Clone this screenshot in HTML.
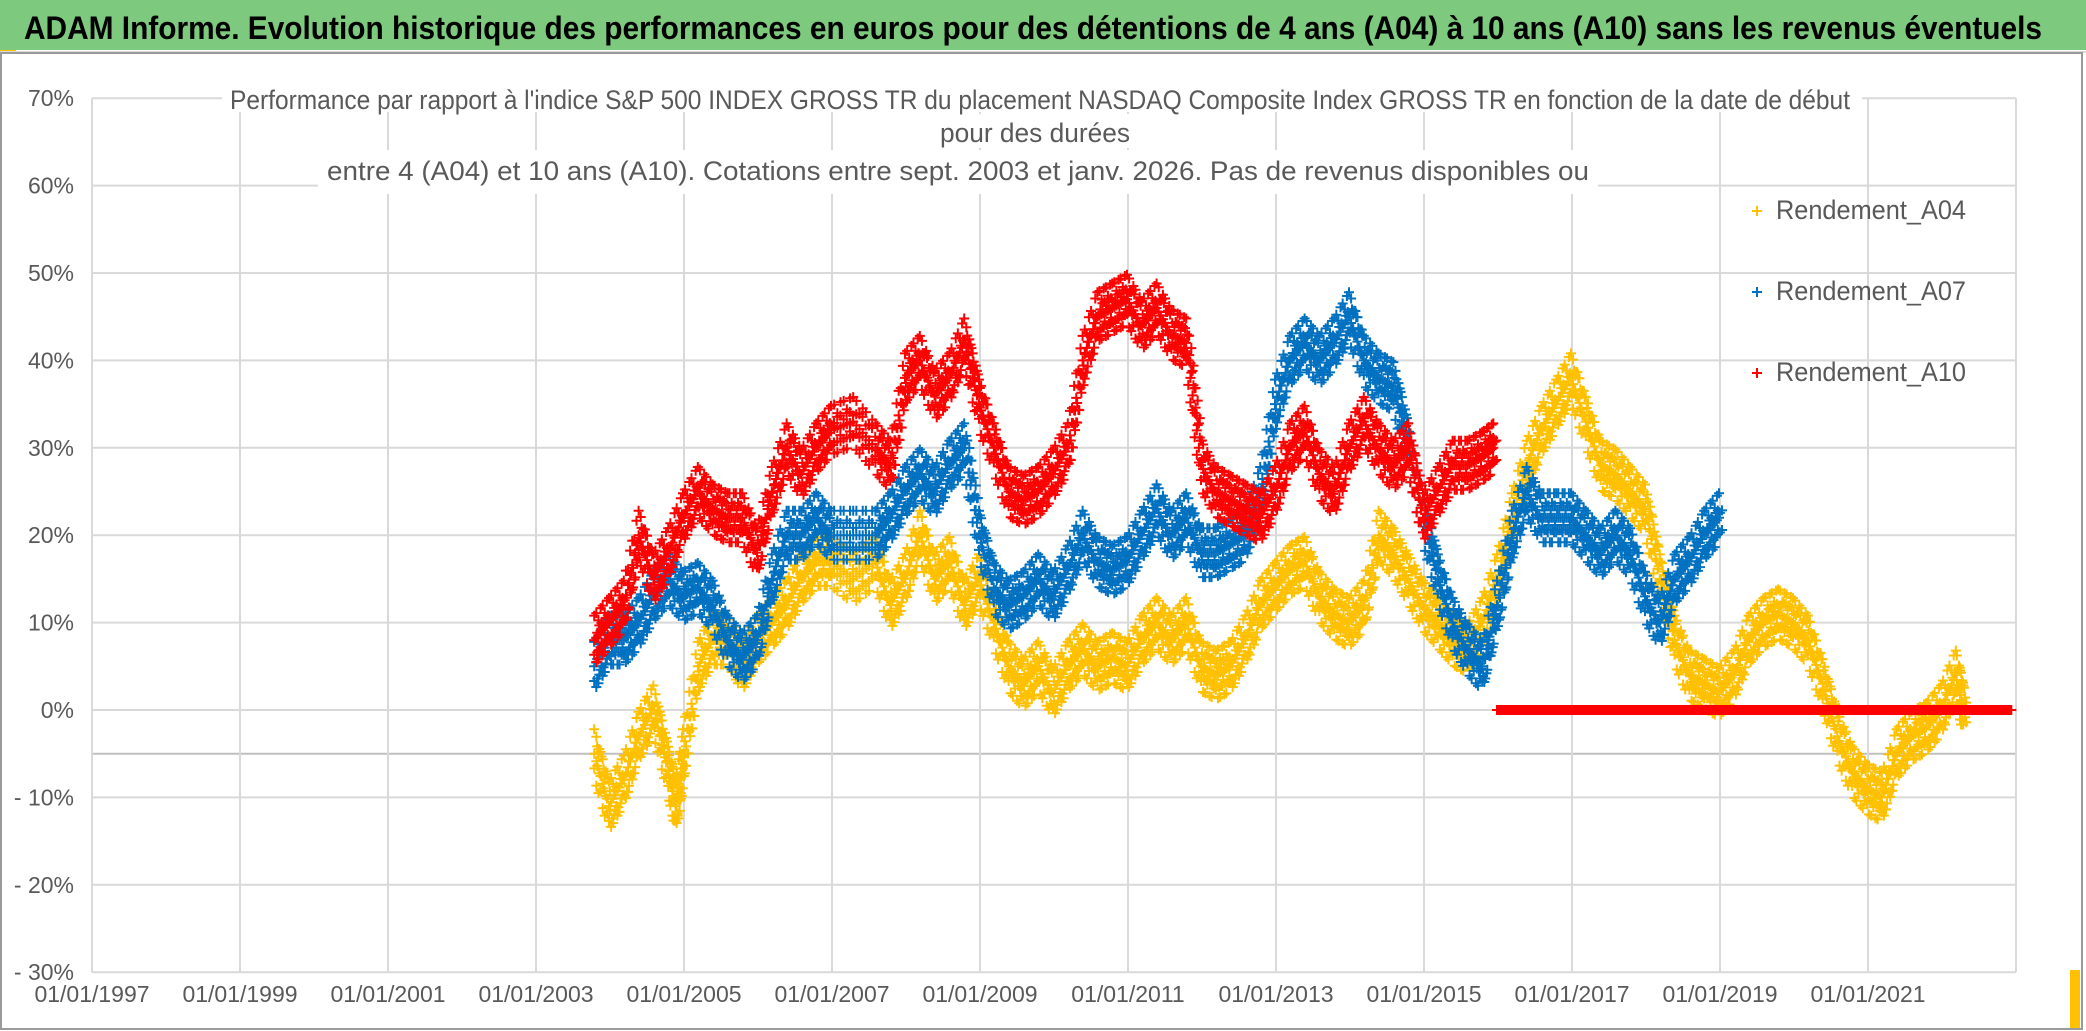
<!DOCTYPE html>
<html><head><meta charset="utf-8">
<style>
html,body{margin:0;padding:0;background:#fff;}
svg{display:block;font-family:"Liberation Sans Narrow","Liberation Sans",sans-serif;}
</style></head>
<body>
<svg id="chart" width="2086" height="1031" viewBox="0 0 2086 1031" xmlns="http://www.w3.org/2000/svg">
<rect x="0" y="0" width="2086" height="1031" fill="#fff"/>
<rect x="0" y="0" width="2086" height="50" fill="#7DC97E"/>
<text x="24" y="39" font-size="32" font-weight="bold" fill="#000" textLength="2018" lengthAdjust="spacingAndGlyphs">ADAM Informe. Evolution historique des performances en euros pour des détentions de 4 ans (A04) à 10 ans (A10) sans les revenus éventuels</text>
<rect x="0" y="50" width="16" height="4" fill="#FFC000"/>
<line x1="0" y1="52" x2="2086" y2="52" stroke="#d9d9d9" stroke-width="2"/>
<rect x="2070" y="970" width="10" height="58" fill="#FFC000"/>
<rect x="1" y="53" width="2081" height="976" fill="none" stroke="#9a9a9a" stroke-width="2"/>
<g id="grid"></g>
<g id="marks"></g>
<g id="titlebox">
<rect x="222" y="72" width="1640" height="40" fill="#fff"/>
<rect x="930" y="114" width="210" height="34" fill="#fff"/>
<rect x="318" y="150" width="1280" height="44" fill="#fff"/>
<text x="1040" y="109" font-size="27" fill="#595959" text-anchor="middle" textLength="1620" lengthAdjust="spacingAndGlyphs">Performance par rapport à l'indice S&amp;P 500 INDEX GROSS TR  du placement NASDAQ Composite Index GROSS TR en fonction de la date de début</text>
<text x="1035" y="142" font-size="27" fill="#595959" text-anchor="middle" textLength="190" lengthAdjust="spacingAndGlyphs">pour des durées</text>
<text x="958" y="180" font-size="27" fill="#595959" text-anchor="middle" textLength="1262" lengthAdjust="spacingAndGlyphs">entre 4 (A04) et 10 ans (A10). Cotations entre sept. 2003 et janv. 2026. Pas de revenus disponibles ou</text>
</g>
<g id="legend"></g>
</svg>
<script>
const yTicks=[70,60,50,40,30,20,10,0,-10,-20,-30];
const xTickYears=[1997,1999,2001,2003,2005,2007,2009,2011,2013,2015,2017,2019,2021];
const xTickLabels=["01/01/1997","01/01/1999","01/01/2001","01/01/2003","01/01/2005","01/01/2007","01/01/2009","01/01/2011","01/01/2013","01/01/2015","01/01/2017","01/01/2019","01/01/2021"];
const a04Dates=[2003.8,2004.0,2004.2,2004.4,2004.6,2004.8,2004.9,2005.0,2005.2,2005.4,2005.6,2005.8,2006.0,2006.2,2006.4,2006.6,2006.8,2007.0,2007.3,2007.6,2007.8,2008.0,2008.2,2008.4,2008.6,2008.8,2009.0,2009.2,2009.4,2009.6,2009.8,2010.0,2010.2,2010.4,2010.6,2010.8,2011.0,2011.2,2011.4,2011.6,2011.8,2012.0,2012.2,2012.4,2012.6,2012.8,2013.0,2013.2,2013.4,2013.6,2013.8,2014.0,2014.2,2014.4,2014.6,2014.8,2015.0,2015.2,2015.4,2015.6,2015.8,2016.0,2016.2,2016.4,2016.6,2016.8,2017.0,2017.2,2017.4,2017.6,2017.8,2018.0,2018.2,2018.4,2018.6,2018.8,2019.0,2019.2,2019.4,2019.6,2019.8,2020.0,2020.2,2020.4,2020.6,2020.8,2021.0,2021.2,2021.4,2021.6,2021.8,2022.0,2022.2,2022.3];
const a04Values=[-5,-11,-8,-3,0,-7,-11,-5,5,8,8,5,8,10,12,15,17,17,15,17,12,15,20,15,17,12,15,10,5,3,5,2,5,7,5,6,5,8,10,8,10,5,4,5,8,12,14,16,17,13,11,10,12,20,18,15,12,10,8,7,10,15,22,28,32,35,38,33,28,27,25,23,15,8,4,3,2,4,8,10,11,10,8,3,-3,-7,-9,-10,-5,-3,-2,0,4,0];
const a07Dates=[2003.8,2004.0,2004.2,2004.4,2004.6,2004.8,2005.0,2005.2,2005.4,2005.6,2005.8,2006.0,2006.2,2006.4,2006.6,2006.8,2007.0,2007.3,2007.6,2007.8,2008.0,2008.2,2008.4,2008.6,2008.8,2009.0,2009.2,2009.4,2009.6,2009.8,2010.0,2010.2,2010.4,2010.6,2010.8,2011.0,2011.2,2011.4,2011.6,2011.8,2012.0,2012.2,2012.4,2012.6,2012.8,2013.0,2013.2,2013.4,2013.6,2013.8,2014.0,2014.2,2014.4,2014.6,2014.8,2015.0,2015.2,2015.4,2015.6,2015.8,2016.0,2016.2,2016.4,2016.6,2016.8,2017.0,2017.2,2017.4,2017.6,2017.8,2018.0,2018.2,2018.4,2018.6,2018.8,2019.0];
const a07Values=[5,8,8,10,13,15,13,14,12,8,6,8,15,20,20,22,20,20,20,22,25,27,25,28,30,20,14,12,13,15,13,16,20,17,16,17,20,23,20,22,18,18,19,20,25,35,40,42,40,42,45,40,38,37,30,22,15,10,7,5,12,20,25,22,22,22,20,18,20,18,13,10,15,17,20,22];
const a10Dates=[2003.8,2004.0,2004.2,2004.4,2004.6,2004.8,2005.0,2005.2,2005.4,2005.6,2005.8,2006.0,2006.2,2006.4,2006.6,2006.8,2007.0,2007.3,2007.6,2007.8,2008.0,2008.2,2008.4,2008.6,2008.8,2009.0,2009.2,2009.4,2009.6,2009.8,2010.0,2010.2,2010.4,2010.6,2010.8,2011.0,2011.2,2011.4,2011.6,2011.8,2012.0,2012.2,2012.4,2012.6,2012.8,2013.0,2013.2,2013.4,2013.6,2013.8,2014.0,2014.2,2014.4,2014.6,2014.8,2015.0,2015.2,2015.4,2015.6,2015.8,2015.95];
const a10Values=[8,10,12,20,15,18,22,25,23,22,22,18,25,30,27,30,32,33,30,28,38,40,36,38,42,35,30,25,24,25,27,30,40,45,46,47,44,46,43,42,28,25,24,23,22,25,30,32,27,25,30,33,30,28,30,22,25,28,28,29,30];
const zeroDates=[2016.0,2022.95];
const zeroValues=[0,0];
const legendNames=["Rendement_A04","Rendement_A07","Rendement_A10"];

const NS="http://www.w3.org/2000/svg";
const X0=92, PXYR=74, Y0=710, PXPCT=8.74;
function xs(yr){return X0+(yr-1997)*PXYR;}
function ys(v){return Y0-v*PXPCT;}
function mk(tag,attrs,parent){const e=document.createElementNS(NS,tag);for(const k in attrs)e.setAttribute(k,attrs[k]);parent.appendChild(e);return e;}
const grid=document.getElementById('grid');
const plotR=xs(2023);
yTicks.forEach(t=>{
  const l=mk('line',{x1:X0,x2:plotR,y1:ys(t),y2:ys(t),stroke:'#d9d9d9','stroke-width':2},grid);
  
  
  const tx=mk('text',{x:74,y:ys(t)+8,'font-size':23,fill:'#595959','text-anchor':'end'},grid);
  tx.textContent=(t<0?'- '+(-t):t)+'%';
  
  
});
const ax=mk('line',{x1:X0,x2:plotR,y1:ys(-5),y2:ys(-5),stroke:'#bfbfbf','stroke-width':2},grid);


xTickYears.forEach((yr,i)=>{
  const l=mk('line',{x1:xs(yr),x2:xs(yr),y1:ys(70),y2:ys(-30),stroke:'#d9d9d9','stroke-width':2},grid);
  
  
  const tx=mk('text',{x:xs(yr),y:1002,'font-size':23,fill:'#595959','text-anchor':'middle'},grid);
  tx.textContent=xTickLabels[i];
  
  
});
mk('line',{x1:plotR,x2:plotR,y1:ys(70),y2:ys(-30),stroke:'#d9d9d9','stroke-width':2},grid);

const marks=document.getElementById('marks');
function series(dates,vals,color,name,spread,sub){
  let d='';const s=5;
  for(let i=0;i<dates.length;i++){
    const steps=(i<dates.length-1)?sub:1;
    for(let k=0;k<steps;k++){
      let yr=dates[i],v=vals[i];
      if(i<dates.length-1){const f=k/steps;yr=dates[i]+(dates[i+1]-dates[i])*f;v=vals[i]+(vals[i+1]-vals[i])*f;}
      const offs=spread>0?[-spread,-spread/2,0,spread/2,spread]:[0];
      offs.forEach((o,j)=>{
        const px=xs(yr)+((j%2)?2:-1), py=ys(v+o*(((k+j)%3)?1:0.6));
        d+=`M${px-s} ${py}h${2*s}M${px} ${py-s}v${2*s}`;
      });
    }
  }
  const p=mk('path',{d:d,stroke:color,'stroke-width':2,fill:'none'},marks);
  
  
}
series(a04Dates,a04Values,'#FFC000','series-a04',2.8,7);
series(a07Dates,a07Values,'#0070C0','series-a07',2.8,7);
series(a10Dates,a10Values,'#FF0000','series-a10',2.8,7);
series(zeroDates,zeroValues,'#FF0000','series-a10-zero',0,500);

const leg=document.getElementById('legend');
const legColors=['#FFC000','#0070C0','#FF0000'];
legendNames.forEach((n,i)=>{
  const y=219+i*81;
  const g=mk('g',{},leg);
  
  
  mk('path',{d:`M1752 ${y-8}h10M1757 ${y-13}v10`,stroke:legColors[i],'stroke-width':2},g);
  const t=mk('text',{x:1776,y:y,'font-size':27,fill:'#595959',textLength:190,lengthAdjust:'spacingAndGlyphs'},g);
  t.textContent=n;
});
</script>
</body></html>
